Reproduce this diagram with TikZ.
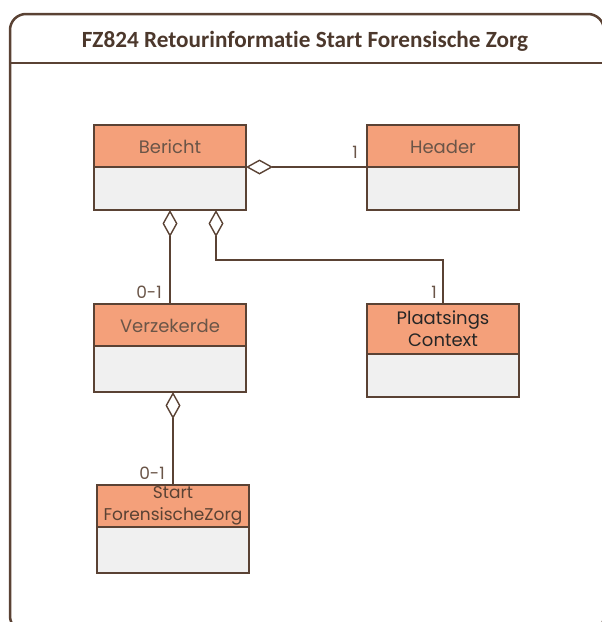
\documentclass[tikz,border=0pt]{standalone}
\usepackage{fontspec}
\setmainfont{Poppins}
\newfontfamily\titelfont[Ligatures=NoCommon]{Carlito}
\usetikzlibrary{arrows.meta,positioning}
\definecolor{umlbruin}{HTML}{5A4234}
\definecolor{umlzalm}{HTML}{F4A07A}
\definecolor{umlgrijs}{HTML}{F0F0F0}
\definecolor{umltekst}{HTML}{6A5548}

\begin{document}
\begin{tikzpicture}[
  x=1pt,y=-1pt,
  kop/.style={draw=umlbruin, fill=umlzalm, line width=1.4pt, outer sep=0pt, inner sep=0pt, minimum width=152pt, minimum height=42pt, align=center, font=\fontsize{18}{22}\selectfont, text=umltekst},
  een/.style={text height=1.5em, text depth=0pt},
  romp/.style={draw=umlbruin, fill=umlgrijs, line width=1.4pt, outer sep=0pt, inner sep=0pt, minimum width=152pt, minimum height=43pt},
  agg/.style={{Diamond[open,length=27pt,width=15pt,line width=1.4pt]}-, draw=umlbruin, line width=1.4pt},
  mult/.style={anchor=south east, inner sep=0pt, xshift=-8pt, yshift=5pt, font=\fontsize{17}{18}\selectfont, text=umltekst},
  rahmen/.style={draw=umlbruin, line width=2.5pt, rounded corners=16pt}
]
\useasboundingbox (0,0) rectangle (602,622);
\clip (0,0) rectangle (602,622);
\draw[rahmen] (10,14) rectangle (604,632);
\node[font=\titelfont\bfseries\fontsize{23.2}{25}\selectfont, text=umlbruin!85!black] (titel) at (305,41) {FZ824 Retourinformatie Start Forensische Zorg};
\draw[umlbruin, line width=2.5pt] (10,63) -- (604,63);
% klassen
\node[kop,een] (bericht) at (170,146) {Bericht};
\node[romp, below=0pt of bericht] (berichtb) {};
\node[kop,een] (header) at (443,146) {Header};
\node[romp, below=0pt of header] (headerb) {};
\node[kop,een] (verzekerde) at (170,325) {Verzekerde};
\node[romp, below=0pt of verzekerde, minimum height=46pt] (verzekerdeb) {};
\node[kop, minimum height=50pt, text=black!85] (plaatsing) at (443,329) {Plaatsings\\Context};
\node[romp, below=0pt of plaatsing] (plaatsingb) {};
\node[kop, text=umlbruin, font=\fontsize{17}{22}\selectfont] (startzorg) at (173,506) {Start\\ForensischeZorg};
\node[romp, below=0pt of startzorg, minimum height=46pt] (startzorgb) {};
% aggregaties
\draw[agg] (bericht.south east) -- (header.south west);
\draw[agg] (berichtb.south) -- (verzekerde.north);
\draw[agg] ([xshift=46pt]berichtb.south) -- ++(0,50) -| (plaatsing.north);
\draw[agg] (verzekerdeb.south -| startzorg.north) -- (startzorg.north);
% multipliciteiten
\node[mult, xshift=-1pt, yshift=3pt] (m1) at (header.south west) {1};
\node[mult] (m2) at (verzekerde.north) {0-1};
\node[mult, xshift=2pt] (m3) at (plaatsing.north) {1};
\node[mult] (m4) at (startzorg.north) {0-1};
\end{tikzpicture}
\end{document}
